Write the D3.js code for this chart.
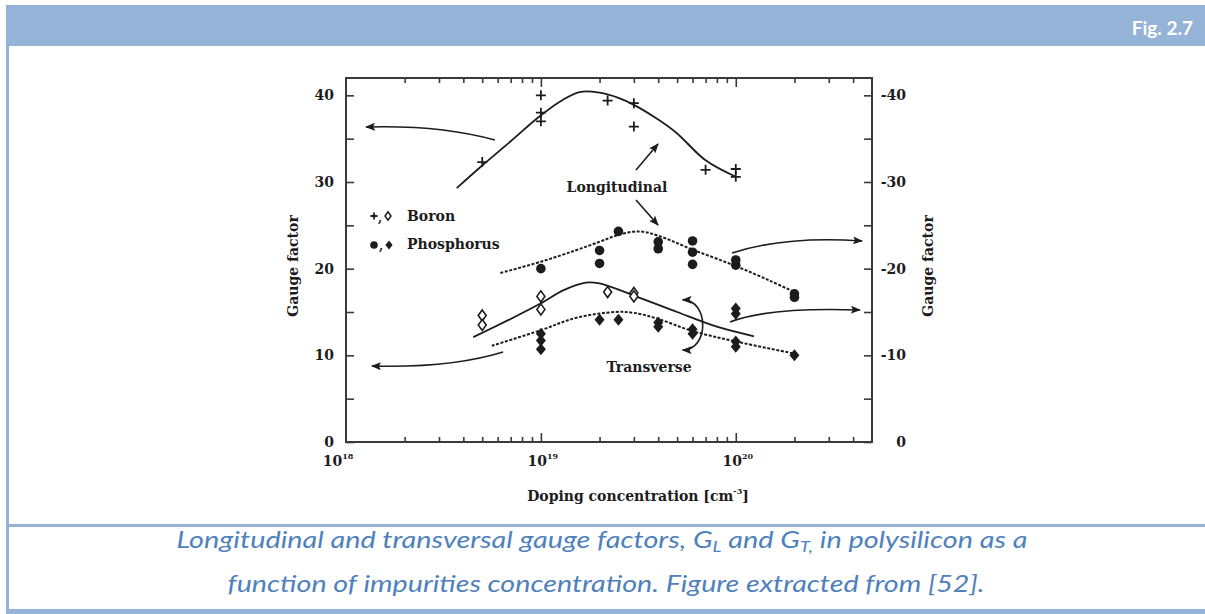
<!DOCTYPE html>
<html>
<head>
<meta charset="utf-8">
<script src="https://cdn.jsdelivr.net/npm/d3@7"></script>
<style>
  html, body { margin: 0; padding: 0; background: #fff; }
  svg { display: block; }
</style>
</head>
<body>
<svg id="fig" width="1205" height="614"></svg>
<script>
// ---- measured points: doping concentration (cm^-3) and gauge factor ----
const concBoronL = [5e18, 1e19, 1e19, 1e19, 2.2e19, 3e19, 3e19, 7e19, 1e20, 1e20];
const gfBoronL   = [32.3, 40.0, 38.0, 37.0, 39.4, 39.1, 36.4, 31.4, 31.5, 30.6];

const concPhosL = [1e19, 2e19, 2e19, 2.5e19, 4e19, 4e19, 6e19, 6e19, 6e19, 1e20, 1e20, 2e20, 2e20];
const gfPhosL   = [20.0, 22.1, 20.6, 24.3, 23.1, 22.3, 23.2, 21.9, 20.5, 21.0, 20.4, 17.1, 16.7];

const concBoronT = [5e18, 5e18, 1e19, 1e19, 2.2e19, 3e19, 3e19];
const gfBoronT   = [14.6, 13.5, 16.8, 15.3, 17.3, 17.2, 16.8];

const concPhosT = [1e19, 1e19, 1e19, 2e19, 2.5e19, 4e19, 4e19, 6e19, 6e19, 1e20, 1e20, 1e20, 1e20, 2e20];
const gfPhosT   = [12.5, 11.7, 10.7, 14.1, 14.1, 13.8, 13.3, 13.0, 12.5, 15.4, 14.8, 11.6, 11.0, 10.0];

// ---- model curves ----
const fitConcBoronL = [3.7e18, 5e18, 7e18, 1e19, 1.3e19, 1.6e19, 2e19, 2.5e19, 3e19, 4e19, 5e19, 7e19, 1e20];
const fitGfBoronL   = [29.3, 31.9, 34.7, 37.7, 39.5, 40.4, 40.3, 39.7, 38.9, 37.2, 35.6, 32.5, 30.6];

const fitConcPhosL = [6.2e18, 1e19, 1.5e19, 2e19, 2.5e19, 3.2e19, 4e19, 6e19, 1e20, 1.5e20, 2e20];
const fitGfPhosL   = [19.5, 20.8, 22.1, 23.1, 23.9, 24.3, 23.8, 22.2, 20.3, 18.6, 17.3];

const fitConcBoronT = [4.5e18, 7e18, 1e19, 1.3e19, 1.7e19, 2e19, 3e19, 5e19, 8e19, 1.24e20];
const fitGfBoronT   = [12.1, 14.2, 16.0, 17.5, 18.4, 18.3, 16.9, 15.0, 13.3, 12.2];

const fitConcPhosT = [5.6e18, 1e19, 1.5e19, 2.4e19, 3e19, 4e19, 6e19, 1e20, 2e20];
const fitGfPhosT   = [11.1, 12.9, 14.3, 15.0, 14.9, 14.2, 12.8, 11.6, 10.2];

// ---- axes ----
const xDomain = [1e18, 5e20];
const yDomain = [0, 42];
const xMajor = [1e18, 1e19, 1e20];
const xMajorExp = ["18", "19", "20"];
const xMinor = [2e18,3e18,4e18,5e18,6e18,7e18,8e18,9e18,
                2e19,3e19,4e19,5e19,6e19,7e19,8e19,9e19,
                2e20,3e20,4e20];
const yTicks = [0, 5, 10, 15, 20, 25, 30, 35, 40];
const yLabelsLeft  = { 0: "0", 10: "10", 20: "20", 30: "30", 40: "40" };
const yLabelsRight = { 0: "0", 10: "-10", 20: "-20", 30: "-30", 40: "-40" };

// annotation arrows, given in data space [log10(conc), gauge] : start, control, end
const arrowUpperLeft  = [[18.764, 34.85], [18.482, 36.6], [18.103, 36.35]];
const arrowLowerLeft  = [[18.806, 10.38], [18.534, 8.5], [18.133, 8.77]];
const arrowUpperRight = [[19.981, 21.81], [20.253, 23.8], [20.648, 23.19]];
const arrowLowerRight = [[19.970, 13.85], [20.175, 15.6], [20.637, 15.23]];
const arrowLongUp   = [[19.488, 31.38], [19.601, 34.38]];
const arrowLongDown = [[19.488, 27.92], [19.601, 25.04]];
const arrowTransverse = [[19.727, 16.4], [19.865, 16.4], [19.865, 10.6], [19.727, 10.6]];

const ink = "#1c1c1c";
const serif = "'DejaVu Serif', 'Liberation Serif', serif";

const svg = d3.select("#fig");

// ---- page frame ----
const frameBlue = "#95b3d7";
svg.append("rect").attr("x", 6).attr("y", 5).attr("width", 1199).attr("height", 41).attr("fill", frameBlue);
svg.append("rect").attr("x", 6).attr("y", 5).attr("width", 3).attr("height", 609).attr("fill", frameBlue);
svg.append("rect").attr("x", 6).attr("y", 524).attr("width", 1199).attr("height", 3).attr("fill", frameBlue);
svg.append("rect").attr("x", 6).attr("y", 609).attr("width", 1199).attr("height", 5).attr("fill", frameBlue);

svg.append("text")
  .attr("x", 1193).attr("y", 35)
  .attr("text-anchor", "end")
  .attr("font-family", "Lato, 'Open Sans', sans-serif")
  .attr("font-weight", 700)
  .attr("font-size", 19)
  .attr("fill", "#ffffff")
  .text("Fig. 2.7");

// ---- caption ----
const captionColor = "#4f81bd";
const cap1 = svg.append("text")
  .attr("x", 602).attr("y", 548)
  .attr("text-anchor", "middle")
  .attr("font-family", "Lato, 'Open Sans', sans-serif")
  .attr("font-style", "italic")
  .attr("font-size", 23)
  .attr("fill", captionColor)
  .attr("textLength", 851)
  .attr("lengthAdjust", "spacingAndGlyphs");
cap1.append("tspan").text("Longitudinal and transversal gauge factors, G");
cap1.append("tspan").attr("font-size", 15).attr("dy", 4).text("L");
cap1.append("tspan").attr("dy", -4).text(" and G");
cap1.append("tspan").attr("font-size", 15).attr("dy", 4).text("T,");
cap1.append("tspan").attr("dy", -4).text(" in polysilicon as a");

svg.append("text")
  .attr("x", 606).attr("y", 592)
  .attr("text-anchor", "middle")
  .attr("font-family", "Lato, 'Open Sans', sans-serif")
  .attr("font-style", "italic")
  .attr("font-size", 23)
  .attr("fill", captionColor)
  .attr("textLength", 757)
  .attr("lengthAdjust", "spacingAndGlyphs")
  .text("function of impurities concentration. Figure extracted from [52].");

// ---- scales ----
const x = d3.scaleLog().domain(xDomain).range([346, 872]);
const y = d3.scaleLinear().domain(yDomain).range([442, 78]);
const X0 = x.range()[0], X1 = x.range()[1], Y0 = y.range()[0], Y1 = y.range()[1];

const plot = svg.append("g").attr("class", "plot");

// frame of the plot
plot.append("rect")
  .attr("x", X0).attr("y", Y1).attr("width", X1 - X0).attr("height", Y0 - Y1)
  .attr("fill", "none").attr("stroke", "#3a3a3a").attr("stroke-width", 2);

function styleAxis(g) {
  g.select(".domain").remove();
  g.selectAll(".tick line").attr("stroke", "#3a3a3a").attr("stroke-width", 1.6);
}

// bottom & top ticks (inward)
plot.append("g").attr("transform", `translate(0,${Y0})`)
  .call(d3.axisBottom(x).tickValues(xMinor).tickSize(-5).tickFormat(""))
  .call(styleAxis);
plot.append("g").attr("transform", `translate(0,${Y0})`)
  .call(d3.axisBottom(x).tickValues(xMajor.slice(1)).tickSize(-9).tickFormat(""))
  .call(styleAxis);
plot.append("g").attr("transform", `translate(0,${Y1})`)
  .call(d3.axisTop(x).tickValues(xMinor).tickSize(-5).tickFormat(""))
  .call(styleAxis);
plot.append("g").attr("transform", `translate(0,${Y1})`)
  .call(d3.axisTop(x).tickValues(xMajor.slice(1)).tickSize(-9).tickFormat(""))
  .call(styleAxis);

// x tick labels: powers of ten
const xLab = plot.append("g")
  .attr("font-family", serif).attr("font-weight", 700).attr("font-size", 14).attr("fill", ink);
xMajor.forEach((v, i) => {
  const t = xLab.append("text")
    .attr("x", x(v) + (i === 0 ? -8 : 2)).attr("y", 466)
    .attr("text-anchor", "middle");
  t.append("tspan").text("10");
  t.append("tspan").attr("font-size", 8).attr("dy", -7).text(xMajorExp[i]);
});

// left axis
plot.append("g").attr("transform", `translate(${X0},0)`)
  .call(d3.axisLeft(y).tickValues(yTicks).tickSize(-8).tickPadding(12)
    .tickFormat(d => yLabelsLeft[d] || ""))
  .call(styleAxis)
  .call(g => g.selectAll("text")
    .attr("font-family", serif).attr("font-weight", 700).attr("font-size", 14).attr("fill", ink));

// right axis
plot.append("g").attr("transform", `translate(${X1},0)`)
  .call(d3.axisRight(y).tickValues(yTicks).tickSize(-8).tickPadding(34)
    .tickFormat(d => yLabelsRight[d] || ""))
  .call(styleAxis)
  .call(g => g.selectAll("text")
    .attr("text-anchor", "end")
    .attr("font-family", serif).attr("font-weight", 700).attr("font-size", 14).attr("fill", ink));

// axis titles
plot.append("text")
  .attr("transform", `translate(298,${(Y0 + Y1) / 2 + 6}) rotate(-90)`)
  .attr("text-anchor", "middle")
  .attr("font-family", serif).attr("font-weight", 700).attr("font-size", 14).attr("fill", ink)
  .text("Gauge factor");
plot.append("text")
  .attr("transform", `translate(933,${(Y0 + Y1) / 2 + 6}) rotate(-90)`)
  .attr("text-anchor", "middle")
  .attr("font-family", serif).attr("font-weight", 700).attr("font-size", 14).attr("fill", ink)
  .text("Gauge factor");
const xt = plot.append("text")
  .attr("x", 638).attr("y", 501)
  .attr("text-anchor", "middle")
  .attr("font-family", serif).attr("font-weight", 700).attr("font-size", 14).attr("fill", ink);
xt.append("tspan").text("Doping concentration [cm");
xt.append("tspan").attr("font-size", 8).attr("dy", -7).text("-3");
xt.append("tspan").attr("dy", 7).text("]");

// ---- curves ----
const line = d3.line().x(d => x(d[0])).y(d => y(d[1])).curve(d3.curveCatmullRom.alpha(0.5));
function zip(a, b) { return a.map((v, i) => [v, b[i]]); }

plot.append("path").datum(zip(fitConcBoronL, fitGfBoronL))
  .attr("d", line).attr("fill", "none").attr("stroke", ink).attr("stroke-width", 1.8);
plot.append("path").datum(zip(fitConcBoronT, fitGfBoronT))
  .attr("d", line).attr("fill", "none").attr("stroke", ink).attr("stroke-width", 1.8);
plot.append("path").datum(zip(fitConcPhosL, fitGfPhosL))
  .attr("d", line).attr("fill", "none").attr("stroke", ink).attr("stroke-width", 2)
  .attr("stroke-dasharray", "3,1.6");
plot.append("path").datum(zip(fitConcPhosT, fitGfPhosT))
  .attr("d", line).attr("fill", "none").attr("stroke", ink).attr("stroke-width", 2)
  .attr("stroke-dasharray", "3,1.6");

// ---- markers ----
function drawPlus(g, cx, cy, s) {
  g.append("path")
    .attr("d", `M${cx - s},${cy}H${cx + s}M${cx},${cy - s}V${cy + s}`)
    .attr("stroke", ink).attr("stroke-width", 1.8).attr("fill", "none");
}
function diamondPath(cx, cy, w, h) {
  return `M${cx},${cy - h}L${cx + w},${cy}L${cx},${cy + h}L${cx - w},${cy}Z`;
}

const marks = plot.append("g");
zip(concBoronL, gfBoronL).forEach(d => drawPlus(marks, x(d[0]), y(d[1]), 5));

marks.selectAll("circle.pl").data(zip(concPhosL, gfPhosL)).join("circle")
  .attr("class", "pl")
  .attr("cx", d => x(d[0])).attr("cy", d => y(d[1])).attr("r", 4.8)
  .attr("fill", ink);

marks.selectAll("path.bt").data(zip(concBoronT, gfBoronT)).join("path")
  .attr("class", "bt")
  .attr("d", d => diamondPath(x(d[0]), y(d[1]), 4, 5.5))
  .attr("fill", "#fff").attr("stroke", ink).attr("stroke-width", 1.6);

marks.selectAll("path.pt").data(zip(concPhosT, gfPhosT)).join("path")
  .attr("class", "pt")
  .attr("d", d => diamondPath(x(d[0]), y(d[1]), 5, 6))
  .attr("fill", ink);

// ---- legend ----
const leg = plot.append("g");
drawPlus(leg, 374, 216, 3.5);
leg.append("text").attr("x", 378).attr("y", 222).attr("font-family", serif).attr("font-weight", 700)
  .attr("font-size", 12).attr("fill", ink).text(",");
leg.append("path").attr("d", diamondPath(388, 216, 3, 4.2))
  .attr("fill", "#fff").attr("stroke", ink).attr("stroke-width", 1.5);
leg.append("text").attr("x", 407).attr("y", 221).attr("font-family", serif).attr("font-weight", 700)
  .attr("font-size", 14).attr("fill", ink).text("Boron");

leg.append("circle").attr("cx", 374).attr("cy", 245).attr("r", 3.8).attr("fill", ink);
leg.append("text").attr("x", 379).attr("y", 250).attr("font-family", serif).attr("font-weight", 700)
  .attr("font-size", 12).attr("fill", ink).text(",");
leg.append("path").attr("d", diamondPath(389, 245, 3.6, 4.5)).attr("fill", ink);
leg.append("text").attr("x", 407).attr("y", 249).attr("font-family", serif).attr("font-weight", 700)
  .attr("font-size", 14).attr("fill", ink).text("Phosphorus");

// ---- annotations ----
const defs = svg.append("defs");
defs.append("marker")
  .attr("id", "head").attr("viewBox", "0 0 10 8")
  .attr("refX", 9).attr("refY", 4)
  .attr("markerWidth", 10).attr("markerHeight", 8)
  .attr("markerUnits", "userSpaceOnUse")
  .attr("orient", "auto-start-reverse")
  .append("path").attr("d", "M0,0L10,4L0,8L2,4Z").attr("fill", ink);

const px = d => [x(Math.pow(10, d[0])), y(d[1])];
function quadArrow(pts) {
  const [a, c, b] = pts.map(px);
  return `M${a[0]},${a[1]}Q${c[0]},${c[1]} ${b[0]},${b[1]}`;
}
const ann = plot.append("g").attr("fill", "none").attr("stroke", ink).attr("stroke-width", 1.6);
[arrowUpperLeft, arrowLowerLeft, arrowUpperRight, arrowLowerRight].forEach(p => {
  ann.append("path").attr("d", quadArrow(p)).attr("marker-end", "url(#head)");
});
[arrowLongUp, arrowLongDown].forEach(p => {
  const [a, b] = p.map(px);
  ann.append("path").attr("d", `M${a[0]},${a[1]}L${b[0]},${b[1]}`).attr("marker-end", "url(#head)");
});
{
  const [a, c1, c2, b] = arrowTransverse.map(px);
  ann.append("path")
    .attr("d", `M${a[0]},${a[1]}C${c1[0]},${c1[1]} ${c2[0]},${c2[1]} ${b[0]},${b[1]}`)
    .attr("marker-start", "url(#head)").attr("marker-end", "url(#head)");
}

plot.append("text").attr("x", 617).attr("y", 192).attr("text-anchor", "middle")
  .attr("font-family", serif).attr("font-weight", 700).attr("font-size", 14).attr("fill", ink)
  .text("Longitudinal");
plot.append("text").attr("x", 649).attr("y", 372).attr("text-anchor", "middle")
  .attr("font-family", serif).attr("font-weight", 700).attr("font-size", 14).attr("fill", ink)
  .text("Transverse");
</script>
</body>
</html>
